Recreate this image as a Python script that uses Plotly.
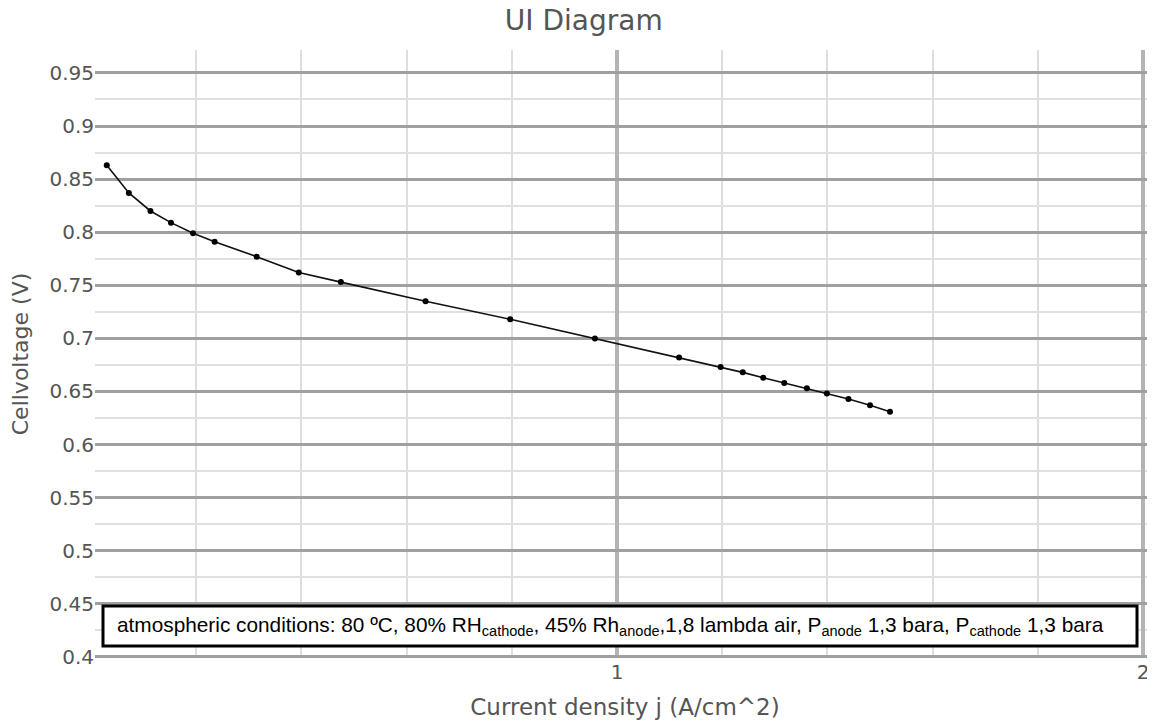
import plotly.graph_objects as go

# current density (A/cm^2) and cell voltage (V)
current_density = [0.030, 0.072, 0.113, 0.152, 0.194, 0.235, 0.315, 0.395, 0.475,
                   0.636, 0.797, 0.958, 1.118, 1.197, 1.239, 1.278, 1.318, 1.361,
                   1.399, 1.440, 1.481, 1.519]
cell_voltage = [0.863, 0.837, 0.820, 0.809, 0.799, 0.791, 0.777, 0.762, 0.753,
                0.735, 0.718, 0.700, 0.682, 0.673, 0.668, 0.663, 0.658, 0.653,
                0.648, 0.643, 0.637, 0.631]

conditions_text = ("atmospheric conditions: 80 ºC, 80% RH<sub>cathode</sub>, "
                   "45% Rh<sub>anode</sub>,1,8 lambda air, P<sub>anode</sub> 1,3 bara, "
                   "P<sub>cathode</sub> 1,3 bara")

TEXT_GREY = '#555555'
FONT = 'Verdana, DejaVu Sans, sans-serif'

fig = go.Figure()

fig.add_trace(go.Scatter(
    x=current_density, y=cell_voltage,
    mode='lines+markers',
    line=dict(color='#111111', width=1.6),
    marker=dict(color='#000000', size=6),
    showlegend=False
))

# white box with black border holding the test conditions
fig.add_shape(
    type='rect', xref='x', yref='y',
    x0=0.0228, x1=1.9886, y0=0.4104, y1=0.4480,
    line=dict(color='#000000', width=3),
    fillcolor='white', layer='above'
)
fig.add_annotation(
    text=conditions_text,
    xref='x', yref='y', x=0.0456, y=0.4292,
    xanchor='left', yanchor='middle',
    showarrow=False,
    font=dict(family='Arial, Liberation Sans, sans-serif', size=20.8, color='#000000')
)

# the page body has an 8px margin, so the figure is sized 8px smaller
fig.update_layout(
    title=dict(
        text='UI Diagram',
        font=dict(family=FONT, size=28, color=TEXT_GREY),
        xref='container', yref='container',
        x=0.502, y=0.983, xanchor='center', yanchor='middle'
    ),
    xaxis=dict(
        range=[0.0076, 2.0228],
        dtick=1, tick0=0,
        showgrid=True, gridcolor='#b4b4b4', gridwidth=4,
        zeroline=False, showline=False, automargin=False,
        minor=dict(dtick=0.2, tick0=0, showgrid=True, gridcolor='#dedede', gridwidth=2),
        tickfont=dict(family=FONT, size=20, color=TEXT_GREY),
        title=dict(text='Current density j (A/cm^2)',
                   font=dict(family=FONT, size=23, color=TEXT_GREY))
    ),
    yaxis=dict(
        range=[0.399, 0.9716],
        dtick=0.05, tick0=0,
        showgrid=True, gridcolor='#a0a0a0', gridwidth=2.5,
        zeroline=False, showline=False, automargin=False,
        minor=dict(dtick=0.025, tick0=0, showgrid=True, gridcolor='#e0e0e0', gridwidth=2),
        tickfont=dict(family=FONT, size=20, color=TEXT_GREY),
        title=dict(text='Cellvoltage (V)',
                   font=dict(family=FONT, size=22, color=TEXT_GREY))
    ),
    paper_bgcolor='white',
    plot_bgcolor='white',
    margin=dict(l=87, r=0, t=42, b=66),
    width=1147, height=716
)

fig.write_html("out.html")
